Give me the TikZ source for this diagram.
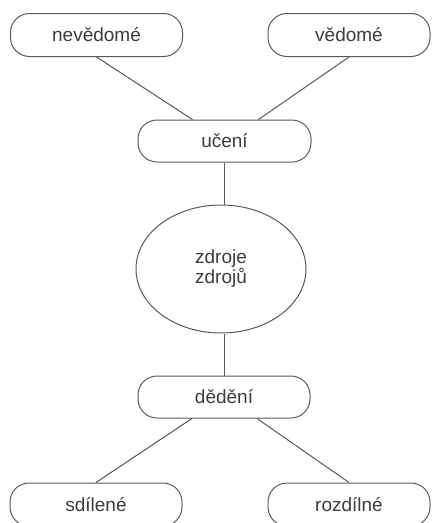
\documentclass[tikz,border=0pt]{standalone}
\usepackage{fontspec}
\setmainfont{Liberation Sans}
\usetikzlibrary{shapes.geometric,calc}
\definecolor{ink}{HTML}{3C3C3C}
\definecolor{edge}{HTML}{5A5A5A}
\begin{document}
\begin{tikzpicture}[x=1pt,y=-1pt,
  box/.style={draw=edge,line width=1pt,rounded corners=19pt,minimum height=43pt,
    inner sep=0pt,text=ink,font=\fontsize{19}{20}\selectfont},
  oval/.style={ellipse,draw=edge,line width=1pt,minimum width=170pt,minimum height=128pt,
    inner sep=0pt,text=ink,align=center,font=\fontsize{19}{20}\selectfont},
  link/.style={draw=edge,line width=1pt}]
\useasboundingbox (0,0) rectangle (432,523);
\node[box,minimum width=172pt] (nev) at (96.5,35) {nevědomé};
\node[box,minimum width=162pt] (ved) at (349,35) {vědomé};
\node[box,minimum width=173pt,minimum height=42pt] (uc) at (224.5,141) {učení};
\node[oval] (zz) at (221,269) {zdroje\\zdrojů};
\node[box,minimum width=172pt,minimum height=42pt] (ded) at (224,397) {dědění};
\node[box,minimum width=172pt] (sd) at (96,504.5) {sdílené};
\node[box,minimum width=162pt] (roz) at (349,504.5) {rozdílné};
\path[link] (nev.south) -- ($(uc.north)+(-32,0)$);
\path[link] (ved.south) -- ($(uc.north)+(34,0)$);
\path[link] (uc.south) -- (zz.north -| uc.south);
\path[link] (zz.south -| ded.north) -- (ded.north);
\path[link] ($(ded.south)+(-32,0)$) -- (sd.north);
\path[link] ($(ded.south)+(33,0)$) -- (roz.north);
\end{tikzpicture}
\end{document}
